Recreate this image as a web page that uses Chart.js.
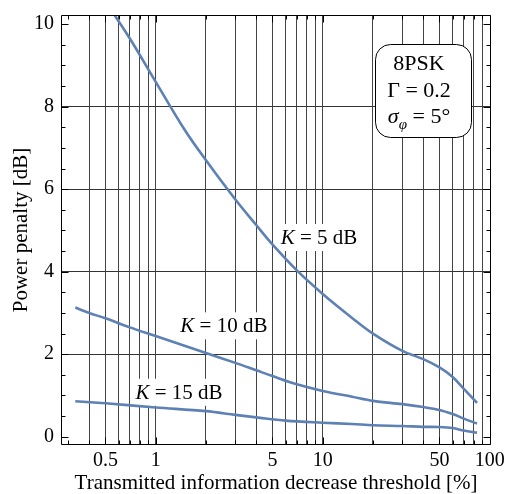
<!DOCTYPE html>
<html lang="en">
<head>
<meta charset="UTF-8">
<title>Power penalty vs threshold</title>
<script src="https://cdn.jsdelivr.net/npm/chart.js"></script>
<style>
  html, body { margin: 0; padding: 0; background: #fff; }
</style>
</head>
<body>
<canvas id="penalty-chart" width="505" height="494"></canvas>
<script>
// curves (x in %, y in dB)
const k5X  = [0.5, 0.7, 1, 1.5, 2, 3, 4, 5, 7, 10, 15, 20, 30, 40, 50, 60, 70, 84];
const k5Y  = [10.55, 9.65, 8.6, 7.42, 6.7, 5.75, 5.13, 4.66, 4.03, 3.46, 2.88, 2.5, 2.08, 1.88, 1.68, 1.45, 1.16, 0.82];
const k10X = [0.33, 0.4, 0.5, 0.7, 1, 2, 3, 4, 5, 7, 10, 15, 20, 30, 40, 50, 60, 70, 84];
const k10Y = [3.13, 3.0, 2.87, 2.65, 2.44, 2.03, 1.79, 1.61, 1.47, 1.27, 1.11, 0.97, 0.87, 0.79, 0.72, 0.65, 0.55, 0.44, 0.32];
const k15X = [0.33, 0.5, 1, 2, 3, 4, 6, 10, 15, 20, 30, 40, 50, 60, 70, 84];
const k15Y = [0.86, 0.81, 0.71, 0.62, 0.53, 0.47, 0.39, 0.34, 0.31, 0.28, 0.26, 0.24, 0.235, 0.21, 0.15, 0.10];

const xTicks  = [0.3, 0.4, 0.5, 0.6, 0.7, 0.8, 0.9, 1, 2, 3, 4, 5, 6, 7, 8, 9, 10, 20, 30, 40, 50, 60, 70, 80, 90, 100];
const xLabels = [0.5, 1, 5, 10, 50, 100];
const xNoGrid = [0.3, 100];
const yTicks  = [0, 0.5, 1, 1.5, 2, 2.5, 3, 3.5, 4, 4.5, 5, 5.5, 6, 6.5, 7, 7.5, 8, 8.5, 9, 9.5, 10];
const yLabels = [0, 2, 4, 6, 8, 10];
const yGrid   = [2, 4, 6, 8];

const kValues = ['5', '10', '15'];
// where each curve label sits, in data units
const kLabelX = [9.5, 2.56, 1.38];
const kLabelY = [4.84, 2.70, 1.09];

const FONT = '"Liberation Serif", "Times New Roman", serif';
const LINE = '#5e81b5';

function pts(xs, ys) { return xs.map((x, i) => ({ x: x, y: ys[i] })); }

function richText(ctx, parts, cx, baseY, size, measureOnly) {
    const fontOf = p => (p.italic ? 'italic ' : '') + (p.sub ? Math.round(size * 0.68) : size) + 'px ' + FONT;
    let w = 0;
    parts.forEach(p => { ctx.font = fontOf(p); p.w = ctx.measureText(p.t).width; w += p.w; });
    if (measureOnly) return w;
    let x = cx - w / 2;
    parts.forEach(p => {
        ctx.font = fontOf(p);
        ctx.fillText(p.t, x, baseY + (p.sub ? size * 0.28 : 0));
        x += p.w;
    });
    return w;
}

const decorations = {
    id: 'decorations',
    beforeDatasetsDraw(chart) {
        const { ctx, scales: { x, y } } = chart;
        ctx.save();
        ctx.textBaseline = 'alphabetic';
        kValues.forEach((k, i) => {
            const size = 21;
            const parts = [{ t: 'K', italic: true }, { t: ' = ' + k + ' dB' }];
            const cx = x.getPixelForValue(kLabelX[i]);
            const cy = y.getPixelForValue(kLabelY[i]);
            const w = richText(ctx, parts, cx, 0, size, true);
            ctx.fillStyle = '#fff';
            ctx.fillRect(cx - w / 2 - 3, cy - 13, w + 6, 27);
            ctx.fillStyle = '#000';
            richText(ctx, parts, cx, cy + 7, size);
        });

        // parameter box, top right
        const a = chart.chartArea;
        const bx = a.right - 116, by = a.top + 29, bw = 96, bh = 93;
        ctx.beginPath();
        ctx.roundRect(bx + 0.5, by + 0.5, bw, bh, 15);
        ctx.fillStyle = '#fff';
        ctx.fill();
        ctx.strokeStyle = '#000';
        ctx.lineWidth = 1;
        ctx.stroke();
        ctx.fillStyle = '#000';
        const mid = bx + bw / 2 - 4;
        richText(ctx, [{ t: '8PSK' }], mid, by + 26, 22);
        richText(ctx, [{ t: '\u0393 = 0.2' }], mid, by + 53, 22);
        richText(ctx, [{ t: '\u03C3', italic: true }, { t: '\u03C6', italic: true, sub: true }, { t: ' = 5\u00B0' }], mid, by + 79, 22);
        ctx.restore();
    },
    afterDraw(chart) {
        const { ctx, chartArea: a, scales: { x, y } } = chart;
        ctx.save();
        ctx.strokeStyle = '#000';
        ctx.lineWidth = 1;
        ctx.beginPath();
        const L = Math.round(a.left) + 0.5, R = Math.round(a.right) - 0.5;
        const T = Math.round(a.top) + 0.5, B = Math.round(a.bottom) - 0.5;
        x.ticks.forEach(t => {
            const px = Math.round(x.getPixelForValue(t.value)) + 0.5;
            const len = xLabels.includes(t.value) ? 7 : 4;
            ctx.moveTo(px, B); ctx.lineTo(px, B - len);
            ctx.moveTo(px, T); ctx.lineTo(px, T + len);
        });
        y.ticks.forEach(t => {
            const py = Math.round(y.getPixelForValue(t.value)) + 0.5;
            const len = yLabels.includes(t.value) ? 7 : 4;
            ctx.moveTo(L, py); ctx.lineTo(L + len, py);
            ctx.moveTo(R, py); ctx.lineTo(R - len, py);
        });
        ctx.rect(L, T, R - L, B - T);
        ctx.stroke();
        ctx.restore();
    }
};

function curve(xs, ys) {
    return {
        data: pts(xs, ys),
        borderColor: LINE,
        borderWidth: 2.6,
        pointRadius: 0,
        fill: false,
        tension: 0.35
    };
}

Chart.defaults.font.family = FONT;
Chart.defaults.color = '#000';

new Chart(document.getElementById('penalty-chart'), {
    type: 'line',
    data: {
        datasets: [curve(k5X, k5Y), curve(k10X, k10Y), curve(k15X, k15Y)]
    },
    options: {
        responsive: false,
        animation: false,
        devicePixelRatio: 1,
        layout: { padding: { left: 0, right: 14, top: 15, bottom: 0 } },
        plugins: { legend: { display: false }, tooltip: { enabled: false } },
        scales: {
            x: {
                type: 'logarithmic',
                min: 0.271,
                max: 101.8,
                border: { display: false },
                grid: {
                    drawTicks: false,
                    lineWidth: 1,
                    color: c => (c.tick && !xNoGrid.includes(c.tick.value)) ? '#444' : 'rgba(0,0,0,0)'
                },
                afterBuildTicks: s => { s.ticks = xTicks.map(v => ({ value: v })); },
                afterFit: s => { s.height = 49; s.paddingLeft = 0; s.paddingRight = 0; },
                ticks: {
                    autoSkip: false,
                    maxRotation: 0,
                    minRotation: 0,
                    padding: 4,
                    color: '#000',
                    font: { size: 20 },
                    callback: v => xLabels.includes(v) ? String(v) : ''
                },
                title: {
                    display: true,
                    text: 'Transmitted information decrease threshold [%]',
                    color: '#000',
                    font: { size: 21, lineHeight: 1 },
                    padding: { top: 0, bottom: 0 }
                }
            },
            y: {
                type: 'linear',
                min: -0.2,
                max: 10.22,
                border: { display: false },
                grid: {
                    drawTicks: false,
                    lineWidth: 1,
                    color: c => (c.tick && yGrid.includes(c.tick.value)) ? '#333' : 'rgba(0,0,0,0)'
                },
                afterBuildTicks: s => { s.ticks = yTicks.map(v => ({ value: v })); },
                afterFit: s => { s.width = 61; s.paddingTop = 0; s.paddingBottom = 0; },
                ticks: {
                    autoSkip: false,
                    padding: 7,
                    color: '#000',
                    font: { size: 20 },
                    callback: v => yLabels.includes(v) ? String(v) : ''
                },
                title: {
                    display: true,
                    text: 'Power penalty [dB]',
                    color: '#000',
                    font: { size: 21, lineHeight: 1 },
                    padding: { top: 11, bottom: 0 }
                }
            }
        }
    },
    plugins: [decorations]
});
</script>
</body>
</html>
